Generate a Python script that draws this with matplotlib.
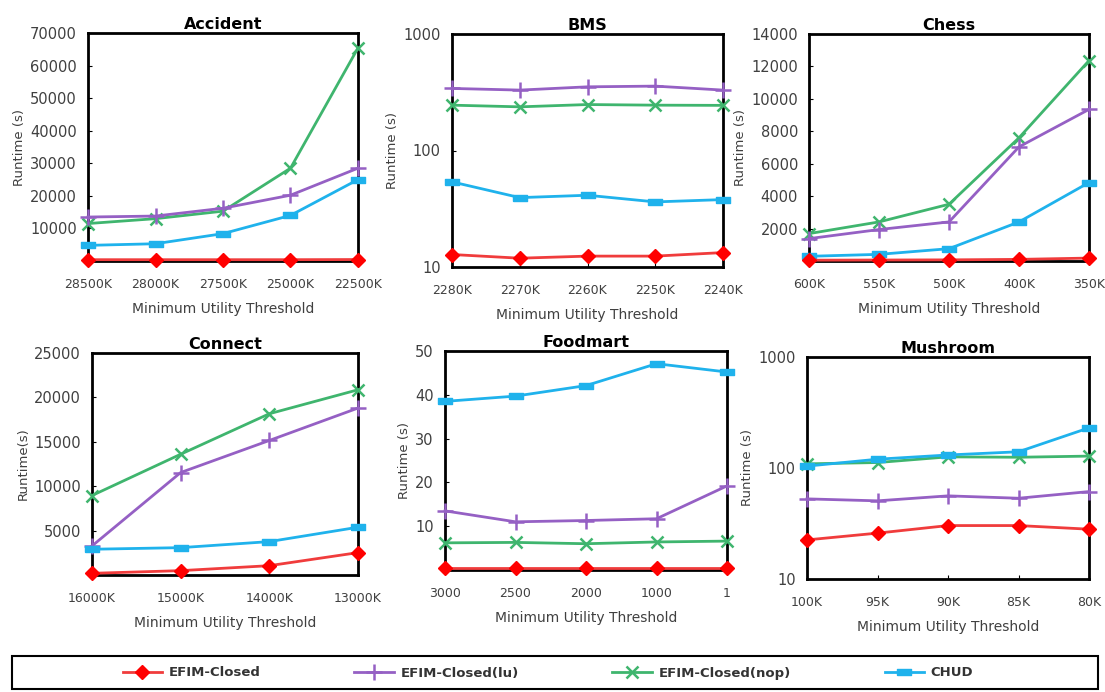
import matplotlib
matplotlib.use("Agg")
import matplotlib.pyplot as plt
from matplotlib.patches import Rectangle
from matplotlib.ticker import FixedLocator, NullLocator, FixedFormatter

# ---------------------------------------------------------------------------
# Data
# ---------------------------------------------------------------------------
series_names = ["EFIM-Closed", "EFIM-Closed(lu)", "EFIM-Closed(nop)", "CHUD"]

accident_x = ["28500K", "28000K", "27500K", "25000K", "22500K"]
accident_efim = [400, 400, 400, 400, 450]
accident_lu = [13500, 13800, 16200, 20200, 28500]
accident_nop = [11500, 13000, 15300, 28500, 65400]
accident_chud = [4800, 5300, 8400, 14000, 25000]

bms_x = ["2280K", "2270K", "2260K", "2250K", "2240K"]
bms_efim = [12.8, 11.9, 12.4, 12.4, 13.3]
bms_lu = [341, 330, 352, 357, 330]
bms_nop = [245, 237, 248, 245, 244]
bms_chud = [53.8, 39.4, 41.3, 36.2, 37.9]

chess_x = ["600K", "550K", "500K", "400K", "350K"]
chess_efim = [50, 60, 70, 100, 180]
chess_lu = [1380, 1940, 2410, 7040, 9350]
chess_nop = [1690, 2410, 3500, 7600, 12360]
chess_chud = [290, 410, 760, 2410, 4840]

connect_x = ["16000K", "15000K", "14000K", "13000K"]
connect_efim = [190, 490, 1050, 2520]
connect_lu = [3270, 11540, 15150, 18800]
connect_nop = [8950, 13600, 18160, 20860]
connect_chud = [2900, 3080, 3760, 5380]

foodmart_x = ["3000", "2500", "2000", "1000", "1"]
foodmart_efim = [0.5, 0.5, 0.5, 0.5, 0.5]
foodmart_lu = [13.5, 11.0, 11.3, 11.7, 19.2]
foodmart_nop = [6.2, 6.3, 6.0, 6.4, 6.6]
foodmart_chud = [38.5, 39.7, 42.1, 47.1, 45.2]

mushroom_x = ["100K", "95K", "90K", "85K", "80K"]
mushroom_efim = [22.5, 25.9, 30.3, 30.3, 28.1]
mushroom_lu = [52.7, 50.6, 56.1, 53.4, 61.3]
mushroom_nop = [109, 112, 126, 125, 128]
mushroom_chud = [104, 120, 131, 140, 230]

# ---------------------------------------------------------------------------
# Styles
# ---------------------------------------------------------------------------
rect = [(-1, -0.45), (1, -0.45), (1, 0.45), (-1, 0.45), (-1, -0.45)]
estilos = {
    "EFIM-Closed": dict(color="#f03c3c", marker="D", ms=7, mfc="#ff0000", mec="#ff0000", zorder=6),
    "EFIM-Closed(lu)": dict(color="#9560c4", marker="+", ms=11, mew=1.8, zorder=4),
    "EFIM-Closed(nop)": dict(color="#3fb56e", marker="x", ms=9, mew=1.8, zorder=3),
    "CHUD": dict(color="#1fb2ec", marker=rect, ms=10, mfc="#1fb2ec", mec="#1fb2ec", zorder=5),
}

plt.rcParams["font.family"] = ["DejaVu Sans"]
fig = plt.figure(figsize=(11.05, 6.92), dpi=100)
W, H = 1105, 692


def caja(l, r, t, b):
    return [l / W, 1 - b / H, (r - l) / W, (b - t) / H]


paneles = [
    ("Accident", caja(88, 358, 33, 261), accident_x,
     [accident_efim, accident_lu, accident_nop, accident_chud],
     "lin", (0, 70000), list(range(10000, 70001, 10000)), "Runtime (s)"),
    ("BMS", caja(452, 723, 34, 267), bms_x,
     [bms_efim, bms_lu, bms_nop, bms_chud],
     "log", (10, 1000), [10, 100, 1000], "Runtime (s)"),
    ("Chess", caja(809, 1089, 34, 261), chess_x,
     [chess_efim, chess_lu, chess_nop, chess_chud],
     "lin", (0, 14000), list(range(2000, 14001, 2000)), "Runtime (s)"),
    ("Connect", caja(92, 358, 353, 575), connect_x,
     [connect_efim, connect_lu, connect_nop, connect_chud],
     "lin", (0, 25000), list(range(5000, 25001, 5000)), "Runtime(s)"),
    ("Foodmart", caja(445, 727, 351, 570), foodmart_x,
     [foodmart_efim, foodmart_lu, foodmart_nop, foodmart_chud],
     "lin", (0, 50), [10, 20, 30, 40, 50], "Runtime (s)"),
    ("Mushroom", caja(807, 1089, 357, 579), mushroom_x,
     [mushroom_efim, mushroom_lu, mushroom_nop, mushroom_chud],
     "log", (10, 1000), [10, 100, 1000], "Runtime (s)"),
]

gris = "#404040"
lineas = []
for titulo, pos, etiquetas_x, valores, escala, ylim, yticks, ylabel in paneles:
    ax = fig.add_axes(pos)
    xs = list(range(len(etiquetas_x)))
    lineas = []
    for nombre, ys in zip(series_names, valores):
        linea, = ax.plot(xs, ys, lw=2, clip_on=False, label=nombre, **estilos[nombre])
        lineas.append(linea)
    if escala == "log":
        ax.set_yscale("log")
        ax.yaxis.set_minor_locator(NullLocator())
    ax.set_ylim(*ylim)
    ax.yaxis.set_major_locator(FixedLocator(yticks))
    ax.yaxis.set_major_formatter(FixedFormatter([str(v) for v in yticks]))
    ax.set_xlim(0, len(etiquetas_x) - 1)
    ax.set_xticks(xs)
    ax.set_xticklabels(etiquetas_x)
    for s in ax.spines.values():
        s.set_linewidth(2)
        s.set_color("black")
    ax.tick_params(axis="y", labelsize=10.5, colors="black", labelcolor=gris,
                   length=3, direction="in", pad=8)
    ax.tick_params(axis="x", labelsize=9, colors="black", labelcolor=gris,
                   length=3, direction="in", pad=12)
    ax.set_title(titulo, fontsize=11.5, fontweight="bold", pad=3)
    ax.set_xlabel("Minimum Utility Threshold", fontsize=10, color=gris, labelpad=8)
    ax.set_ylabel(ylabel, fontsize=9.5, color=gris, labelpad=3)

# Legend along the bottom: frame drawn by hand, entries centred inside
fig.add_artist(Rectangle((12 / W, 1 - 689 / H), 1086 / W, 33 / H,
                         transform=fig.transFigure, fill=False,
                         edgecolor="black", linewidth=1.5))
leg = fig.legend(lineas, series_names, loc="center",
                 bbox_to_anchor=(548 / W, 1 - 673 / H),
                 ncol=4, frameon=False, fontsize=9.5, handlelength=3,
                 handletextpad=0.5, columnspacing=7.1)
for t in leg.get_texts():
    t.set_fontweight("bold")
    t.set_color("#333333")

fig.savefig("out.png", dpi=100)
